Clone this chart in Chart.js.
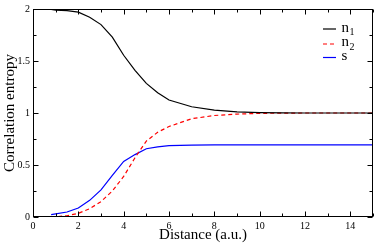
<!DOCTYPE html>
<html>
<head>
<meta charset="utf-8">
<script src="https://cdn.jsdelivr.net/npm/chart.js@4/dist/chart.umd.min.js"></script>
<style>
  body { margin: 0; background: #fff; }
  canvas { display: block; }
</style>
</head>
<body>
<canvas id="entropyChart" width="374" height="245"></canvas>
<script>
// ================================
// DATA
// ================================

// Distance (a.u.)
let distance = [0.8, 1, 1.5, 2, 2.5, 3, 3.5, 4, 4.5, 5, 5.5, 6, 7, 8, 9, 10, 11, 12, 13, 14, 15];

// n1 - black solid
let n1 = [1.995, 1.99, 1.985, 1.97, 1.92, 1.85, 1.73, 1.555, 1.41, 1.285, 1.195, 1.125, 1.06, 1.027, 1.011, 1.004, 1.001, 1.0, 1.0, 1.0, 1.0];

// n2 - red dashed
let n2 = [0.0, 0.003, 0.012, 0.035, 0.08, 0.148, 0.25, 0.39, 0.57, 0.73, 0.815, 0.87, 0.945, 0.976, 0.99, 0.996, 0.999, 1.0, 1.0, 1.0, 1.0];

// s - blue solid
let s = [0.023, 0.03, 0.048, 0.086, 0.16, 0.26, 0.40, 0.535, 0.6, 0.656, 0.675, 0.686, 0.691, 0.693, 0.693, 0.693, 0.693, 0.693, 0.693, 0.693, 0.693];

let xTickLabels = [0, 2, 4, 6, 8, 10, 12, 14];
let yTickLabels = [0, 0.5, 1, 1.5, 2];

let seriesNames = ["n1", "n2", "s"];

const SERIF = "'Liberation Serif', 'Times New Roman', serif";

function toPoints(ys) {
  return distance.map((x, i) => ({ x: x, y: ys[i] }));
}

// ================================
// PLUGIN: frame, inward ticks, legend
// ================================
const framePlugin = {
  id: "frame",
  afterDraw(chart) {
    let c = chart.ctx;
    let a = chart.chartArea;
    let xs = chart.scales.x;
    let ys = chart.scales.y;
    c.save();
    c.strokeStyle = "#000";
    c.lineWidth = 1;

    let L = Math.round(a.left) + 0.5;
    let R = Math.round(a.right) - 0.5;
    let T = Math.round(a.top) + 0.5;
    let B = Math.round(a.bottom) - 0.5;
    c.strokeRect(L, T, R - L, B - T);

    // x ticks, every 1, major every 2
    c.beginPath();
    for (let v = 0; v <= 15; v++) {
      let px = Math.round(xs.getPixelForValue(v)) + 0.5;
      let len = v % 2 === 0 ? 5 : 3;
      c.moveTo(px, B); c.lineTo(px, B - len);
      c.moveTo(px, T); c.lineTo(px, T + len);
    }
    // y ticks, every 0.25, major every 0.5
    for (let k = 0; k <= 8; k++) {
      let v = k * 0.25;
      let py = Math.round(ys.getPixelForValue(v)) + 0.5;
      let len = k % 2 === 0 ? 5 : 3;
      c.moveTo(L, py); c.lineTo(L + len, py);
      c.moveTo(R, py); c.lineTo(R - len, py);
    }
    c.stroke();

    // legend with subscripts
    let rows = [
      { y: 29, base: 31.5, main: "n", sub: "1", color: "#000", dash: [] },
      { y: 44, base: 46, main: "n", sub: "2", color: "#ff0000", dash: [4, 3] },
      { y: 57.5, base: 60, main: "s", sub: "", color: "#0000ff", dash: [] }
    ];
    rows.forEach(r => {
      c.beginPath();
      c.strokeStyle = r.color;
      c.lineWidth = 1.2;
      c.setLineDash(r.dash);
      c.moveTo(323, r.y);
      c.lineTo(336, r.y);
      c.stroke();
      c.setLineDash([]);

      c.fillStyle = "#000";
      c.textBaseline = "alphabetic";
      c.textAlign = "left";
      c.font = "15px " + SERIF;
      c.fillText(r.main, 341.5, r.base);
      if (r.sub) {
        let w = c.measureText(r.main).width;
        c.font = "10px " + SERIF;
        c.fillText(r.sub, 341.5 + w + 0.5, r.base + 3.5);
      }
    });
    c.restore();
  }
};

// ================================
// CHART
// ================================
let ctx = document.getElementById("entropyChart").getContext("2d");

let entropyChart = new Chart(ctx, {
  type: "line",
  data: {
    datasets: [
      {
        label: seriesNames[0],
        data: toPoints(n1),
        borderColor: "#000000",
        borderWidth: 1.2,
        pointRadius: 0,
        tension: 0
      },
      {
        label: seriesNames[1],
        data: toPoints(n2),
        borderColor: "#ff0000",
        borderWidth: 1.2,
        borderDash: [4, 3],
        pointRadius: 0,
        tension: 0
      },
      {
        label: seriesNames[2],
        data: toPoints(s),
        borderColor: "#0000ff",
        borderWidth: 1.2,
        pointRadius: 0,
        tension: 0
      }
    ]
  },
  options: {
    responsive: false,
    animation: false,
    layout: { padding: { top: 4, right: 1, left: 0, bottom: 0 } },
    plugins: {
      legend: { display: false },
      tooltip: { enabled: false }
    },
    scales: {
      x: {
        type: "linear",
        min: 0,
        max: 15,
        grid: { display: false, drawTicks: false },
        border: { display: false },
        afterBuildTicks: sc => { sc.ticks = xTickLabels.map(v => ({ value: v })); },
        afterFit: sc => { sc.height = 28; },
        ticks: {
          color: "#000",
          padding: 3,
          maxRotation: 0,
          callback: v => String(v),
          font: { family: SERIF, size: 10 }
        },
        title: {
          display: true,
          text: "Distance (a.u.)",
          color: "#000",
          font: { family: SERIF, size: 15 },
          padding: { top: 0, bottom: 1 }
        }
      },
      y: {
        min: 0,
        max: 2,
        grid: { display: false, drawTicks: false },
        border: { display: false },
        afterBuildTicks: sc => { sc.ticks = yTickLabels.map(v => ({ value: v })); },
        afterFit: sc => { sc.width = 33; },
        ticks: {
          color: "#000",
          padding: 3,
          callback: v => String(v),
          font: { family: SERIF, size: 10 }
        },
        title: {
          display: true,
          text: "Correlation entropy",
          color: "#000",
          font: { family: SERIF, size: 15 },
          padding: { top: 1, bottom: 0 }
        }
      }
    }
  },
  plugins: [framePlugin]
});
</script>
</body>
</html>
